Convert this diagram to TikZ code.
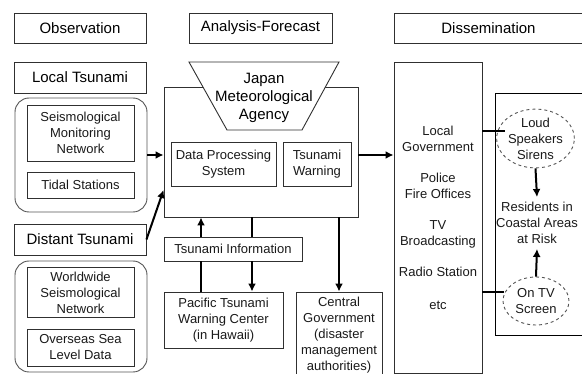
\documentclass[tikz,border=0pt]{standalone}
\usepackage{fontspec}
\setmainfont{Liberation Sans}
\usetikzlibrary{arrows.meta,shapes.geometric}
\definecolor{lc}{HTML}{303030}
\definecolor{gc}{HTML}{555555}
\definecolor{tc}{HTML}{1a1a1a}
\begin{document}
\begin{tikzpicture}[x=1pt,y=-1pt,
 box/.style={draw=lc, line width=0.9pt, rectangle, inner sep=0pt, align=center, font=\fontsize{13}{16}\selectfont, text=tc},
 hdr/.style={box, font=\fontsize{15}{18}\selectfont, text=black},
 grp/.style={draw=gc, line width=0.9pt, rectangle, rounded corners=14pt, inner sep=0pt},
 txt/.style={inner sep=0pt, align=center, font=\fontsize{13}{16}\selectfont, text=tc},
 htxt/.style={inner sep=0pt, align=center, font=\fontsize{15}{18}\selectfont, text=black},
 arr/.style={line width=2pt, -{Latex[length=8pt,width=8pt]}},
 ln/.style={line width=2pt},
 bubble/.style={draw=gc, dashed, line width=0.9pt, ellipse, inner sep=0pt, align=center, font=\fontsize{13}{16}\selectfont, text=tc}
]
\useasboundingbox (0,0) rectangle (582,374);
\clip (0,0) rectangle (582,374);
\fill[white] (0,0) rectangle (582,374);

% column headers
\node[hdr, minimum width=132pt, minimum height=30pt] (obs) at (80,28) {Observation};
\node[hdr, minimum width=143pt, minimum height=30pt] (af) at (260.5,28) {Analysis-Forecast};
\node[hdr, minimum width=189pt, minimum height=30pt] (dis) at (488.5,28) {Dissemination};

% observation column
\node[hdr, minimum width=132pt, minimum height=31pt] (lt) at (80,77.5) {Local Tsunami};
\node[grp, minimum width=132pt, minimum height=114pt] (r1) at (81,155) {};
\node[box, minimum width=107pt, minimum height=56pt] (smn) at (80.5,133) {Seismological\\Monitoring\\Network};
\node[box, minimum width=107pt, minimum height=26pt] (tid) at (80.5,185) {Tidal Stations};
\node[hdr, minimum width=132pt, minimum height=31pt] (dt) at (80,239.5) {Distant Tsunami};
\node[grp, minimum width=132pt, minimum height=111pt] (r2) at (81,316.5) {};
\node[box, minimum width=107pt, minimum height=50pt] (wsn) at (80.5,292.5) {Worldwide\\Seismological\\Network};
\node[box, minimum width=107pt, minimum height=37pt] (osl) at (80.5,347.5) {Overseas Sea\\Level Data};

% analysis column
\node[box, minimum width=194pt, minimum height=130pt] (jma) at (261,152) {};
\filldraw[draw=lc, fill=white, line width=0.9pt] (189,62) -- (339,62) -- (302,130) -- (227,130) -- cycle;
\node[htxt] (jmat) at (264,97.5) {Japan\\Meteorological\\Agency};
\node[box, minimum width=105pt, minimum height=44pt] (dps) at (223.5,164) {Data Processing\\System};
\node[box, minimum width=68pt, minimum height=44pt] (tw) at (317,164) {Tsunami\\Warning};
\node[box, minimum width=138pt, minimum height=24pt] (ti) at (233,249) {Tsunami Information};
\node[box, minimum width=119pt, minimum height=56pt] (pt) at (223.5,320) {Pacific Tsunami\\Warning Center\\(in Hawaii)};
\node[box, minimum width=86pt, minimum height=98pt] (cg) at (339,341) {};
\node[txt] (cgt) at (339,335.5) {Central\\Government\\(disaster\\management\\authorities)};

% dissemination column
\node[box, minimum width=88pt, minimum height=311pt] (db) at (438,217.5) {};
\node[txt] (d1) at (438,138.5) {Local\\Government};
\node[txt] (d2) at (438,185.5) {Police\\Fire Offices};
\node[txt] (d3) at (438,234) {TV\\Broadcasting};
\node[txt] (d4) at (438,272) {Radio Station};
\node[txt] (d5) at (438,305) {etc};
\node[box, draw=black, minimum width=95pt, minimum height=242pt] (ib) at (542.5,214) {};
\node[bubble, minimum width=65pt, minimum height=57pt] (ls) at (535.5,138.5) {Loud\\Speakers\\Sirens};
\node[txt, inner ysep=5pt] (res) at (537,223) {Residents in\\Coastal Areas\\at Risk};
\node[bubble, minimum width=66pt, minimum height=48pt] (tv) at (536,301) {On TV\\Screen};

% connectors
\coordinate (ux) at (201,0);
\coordinate (dx) at (252,0);
\coordinate (cx) at (339,0);
\coordinate (lsl) at (504.5,131);
\coordinate (tvl) at (504,292);
\draw[arr] (r1.east) -- (jma.west |- r1.east);
\draw[arr] (dt.east) -- ([yshift=-38pt]jma.west);
\draw[arr] (jma.east |- r1.east) -- (db.west |- r1.east);
\draw[ln] (pt.north -| ux) -- (ti.south -| ux);
\draw[arr] (ti.north -| ux) -- (jma.south -| ux);
\draw[ln] (jma.south -| dx) -- (ti.north -| dx);
\draw[arr] (ti.south -| dx) -- (pt.north -| dx);
\draw[arr] (jma.south -| cx) -- (cg.north -| cx);
\draw[ln] (db.east |- lsl) -- (lsl);
\draw[ln] (db.east |- tvl) -- (tvl);
\draw[arr] (ls.south) -- (res.north);
\draw[arr] (tv.north) -- (res.south);
\end{tikzpicture}
\end{document}
